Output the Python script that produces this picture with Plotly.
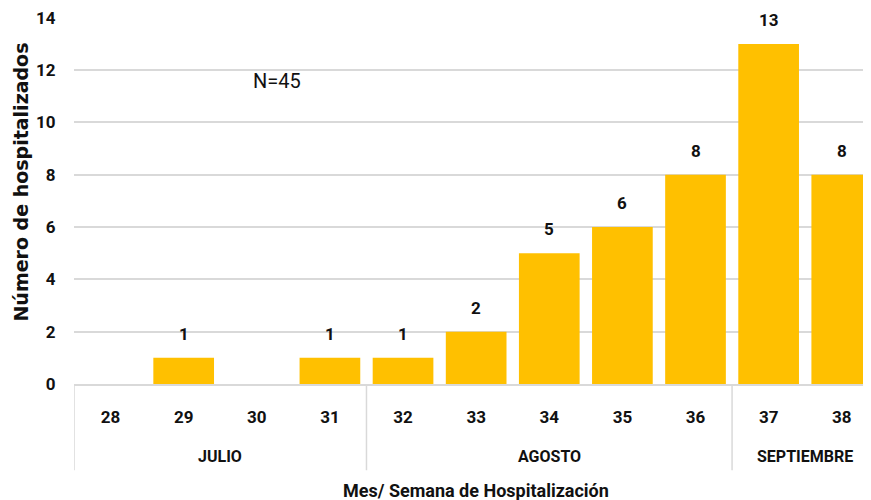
import plotly.graph_objects as go

weeks = ["28", "29", "30", "31", "32", "33", "34", "35", "36", "37", "38"]
months = ["JULIO", "JULIO", "JULIO", "JULIO", "AGOSTO", "AGOSTO", "AGOSTO", "AGOSTO", "AGOSTO", "SEPTIEMBRE", "SEPTIEMBRE"]
hosp = [0, 1, 0, 1, 1, 2, 5, 6, 8, 13, 8]
total_label = "N=45"
y_ticks = [0, 2, 4, 6, 8, 10, 12, 14]

FONT = "Roboto, sans-serif"
WIDE = "'DejaVu Sans', sans-serif"
GOLD = "#FFC000"
GRID = "#D9D9D9"
INK = "#111111"

idx = list(range(len(weeks)))

fig = go.Figure()
fig.add_trace(go.Bar(x=idx, y=hosp, marker=dict(color=GOLD, line=dict(width=0)), width=0.83, hoverinfo="skip"))

annotations = []
for i, v in zip(idx, hosp):
    if v > 0:
        annotations.append(dict(x=i, y=v, xref="x", yref="y", text=f"<b>{v}</b>", showarrow=False,
                                yanchor="bottom", yshift=12, font=dict(family=FONT, size=17, color=INK)))

# month groups
groups = []
for i, m in enumerate(months):
    if not groups or groups[-1][0] != m:
        groups.append([m, i, i])
    else:
        groups[-1][2] = i

shapes = []
for m, a, b in groups:
    annotations.append(dict(x=(a + b) / 2, y=-0.197, xref="x", yref="paper", text=f"<b>{m}</b>",
                            showarrow=False, yanchor="middle", font=dict(family=FONT, size=16, color=INK)))
    shapes.append(dict(type="line", xref="x", yref="paper", x0=a - 0.5, x1=a - 0.5, y0=0, y1=-0.235,
                       line=dict(color=GRID, width=1.5)))

annotations.append(dict(x=(len(weeks) - 1) / 2, y=-0.29, xref="x", yref="paper",
                        text="<b>Mes/ Semana de Hospitalización</b>", showarrow=False, yanchor="middle",
                        font=dict(family=FONT, size=18, color=INK)))
annotations.append(dict(x=-0.066, y=0.55, xref="paper", yref="paper", text="<b>Número de hospitalizados</b>",
                        textangle=-90, showarrow=False, xanchor="center", yanchor="middle",
                        font=dict(family=WIDE, size=19, color=INK)))
annotations.append(dict(x=2.28, y=11.6, xref="x", yref="y", text=total_label, showarrow=False,
                        font=dict(family=FONT, size=20, color=INK)))

# the page body has an 8px margin; size/margins compensate so the plot area lands where the reference has it
fig.update_layout(
    width=863, height=492,
    margin=dict(l=66, r=0, t=9, b=116),
    plot_bgcolor="white", paper_bgcolor="white",
    showlegend=False,
    annotations=annotations,
    shapes=shapes,
    xaxis=dict(range=[-0.5, 10.4], tickmode="array", tickvals=idx, ticktext=[f"<b>{w}</b>" for w in weeks],
               showgrid=False, zeroline=False, showline=True, linecolor=GRID, linewidth=1.5,
               ticks="", ticklabelstandoff=17, automargin=False, ticklabeloverflow="allow",
               tickfont=dict(family=FONT, size=17, color=INK)),
    yaxis=dict(range=[0, 14.03], tickvals=y_ticks, ticktext=[f"<b>{v}</b>" for v in y_ticks],
               showgrid=True, gridcolor=GRID, gridwidth=1.5, zeroline=False, showline=False,
               ticks="outside", ticklen=14, tickcolor="white", automargin=False, ticklabeloverflow="allow",
               tickfont=dict(family=FONT, size=17, color=INK)),
)

fig.write_html("out.html")
